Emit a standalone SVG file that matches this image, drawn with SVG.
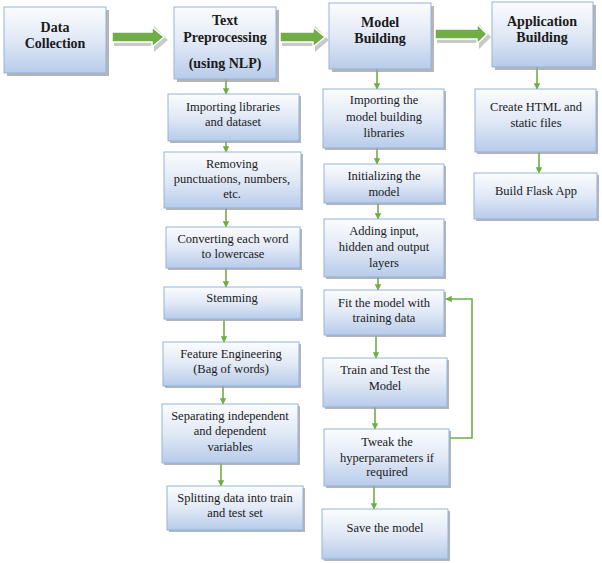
<svg xmlns="http://www.w3.org/2000/svg" width="602" height="563" viewBox="0 0 602 563" font-family="'Liberation Serif', 'DejaVu Serif', serif">
<defs>
<linearGradient id="g" x1="0" y1="0" x2="0" y2="1">
<stop offset="0" stop-color="#fbfcfe"/>
<stop offset="0.5" stop-color="#e1e9f6"/>
<stop offset="1" stop-color="#b7cbea"/>
</linearGradient>
<marker id="ah" viewBox="0 0 10 10" refX="9" refY="5" markerWidth="4" markerHeight="4" orient="auto" markerUnits="strokeWidth">
<path d="M0,0 L10,5 L0,10 z" fill="#70ad47"/>
</marker>
</defs>
<style>
.box{fill:url(#g);stroke:#95b3d7;stroke-width:1}
.sh{fill:#9c9c9c;opacity:0.75}
.h{font-size:14px;font-weight:bold;fill:#1a1a1a;text-anchor:middle}
.t{font-size:12.5px;fill:#1a1a1a;text-anchor:middle}
.c{stroke:#70ad47;stroke-width:1.6;fill:none;marker-end:url(#ah)}
.big{fill:#70ad47;stroke:#ffffff;stroke-width:1.5}
.bigsh{fill:#c9c9c9}
</style>

<g id="connectors">
<g id="bigarrows">
<polygon class="bigsh" points="114,34 154,34 154,26 168,40 154,52 154,46 114,46"/>
<polygon class="big" points="112,32 152,32 152,27 164,37 152,47 152,42 112,42"/>
<polygon class="bigsh" points="282,34 315,34 315,26 329,40 315,52 315,46 282,46"/>
<polygon class="big" points="280,32 313,32 313,27 325,37 313,47 313,42 280,42"/>
<polygon class="bigsh" points="437,31 479,31 479,24 491,37 479,49 479,43 437,43"/>
<polygon class="big" points="435,29 477,29 477,24 487,34 477,44 477,39 435,39"/>
</g>
<line class="c" x1="226" y1="79" x2="226" y2="94"/>
<line class="c" x1="226" y1="141" x2="226" y2="152"/>
<line class="c" x1="226" y1="208" x2="226" y2="227"/>
<line class="c" x1="226" y1="268" x2="226" y2="287"/>
<line class="c" x1="224" y1="320" x2="224" y2="342"/>
<line class="c" x1="223" y1="386" x2="223" y2="404"/>
<line class="c" x1="221" y1="463" x2="221" y2="486"/>
<line class="c" x1="377" y1="69" x2="377" y2="89"/>
<line class="c" x1="377" y1="148" x2="377" y2="164"/>
<line class="c" x1="378" y1="203" x2="378" y2="219"/>
<line class="c" x1="378" y1="277" x2="378" y2="290"/>
<line class="c" x1="376" y1="335" x2="376" y2="358"/>
<line class="c" x1="375" y1="407" x2="375" y2="429"/>
<line class="c" x1="374" y1="486" x2="374" y2="509"/>
<line class="c" x1="537" y1="67" x2="537" y2="89"/>
<line class="c" x1="539" y1="152" x2="539" y2="173"/>
<polyline class="c" points="450,438 472,438 472,299 446,299"/>
</g>

<g id="data-collection">
<rect class="sh" x="7" y="10" width="102" height="66"/>
<rect class="box" x="4" y="7" width="102" height="66"/>
<text class="h" x="55" y="32">Data</text>
<text class="h" x="55" y="48">Collection</text>
</g>
<g id="text-preprocessing">
<rect class="sh" x="177" y="10" width="102" height="72"/>
<rect class="box" x="174" y="7" width="102" height="72"/>
<text class="h" x="225" y="25">Text</text>
<text class="h" x="225" y="42">Preprocessing</text>
<text class="h" x="225" y="68">(using NLP)</text>
</g>
<g id="model-building">
<rect class="sh" x="332" y="6" width="102" height="66"/>
<rect class="box" x="329" y="3" width="102" height="66"/>
<text class="h" x="380" y="27">Model</text>
<text class="h" x="380" y="43">Building</text>
</g>
<g id="application-building">
<rect class="sh" x="495" y="5" width="101" height="65"/>
<rect class="box" x="492" y="2" width="101" height="65"/>
<text class="h" x="542" y="26">Application</text>
<text class="h" x="542" y="42">Building</text>
</g>

<g id="importing-libraries">
<rect class="sh" x="170" y="96" width="131" height="47"/>
<rect class="box" x="168" y="94" width="131" height="47"/>
<text class="t" x="233" y="111">Importing libraries</text>
<text class="t" x="233" y="126">and dataset</text>
</g>
<g id="removing">
<rect class="sh" x="166" y="154" width="137" height="56"/>
<rect class="box" x="164" y="152" width="137" height="56"/>
<text class="t" x="232" y="168">Removing</text>
<text class="t" x="232" y="183">punctuations, numbers,</text>
<text class="t" x="232" y="198">etc.</text>
</g>
<g id="converting">
<rect class="sh" x="168" y="229" width="134" height="41"/>
<rect class="box" x="166" y="227" width="134" height="41"/>
<text class="t" x="233" y="243">Converting each word</text>
<text class="t" x="233" y="258">to lowercase</text>
</g>
<g id="stemming">
<rect class="sh" x="166" y="289" width="137" height="32"/>
<rect class="box" x="164" y="287" width="137" height="32"/>
<text class="t" x="232" y="302">Stemming</text>
</g>
<g id="feature-engineering">
<rect class="sh" x="165" y="344" width="136" height="44"/>
<rect class="box" x="163" y="342" width="136" height="44"/>
<text class="t" x="231" y="358">Feature Engineering</text>
<text class="t" x="231" y="373">(Bag of words)</text>
</g>
<g id="separating">
<rect class="sh" x="164" y="406" width="136" height="59"/>
<rect class="box" x="162" y="404" width="136" height="59"/>
<text class="t" x="230" y="420">Separating independent</text>
<text class="t" x="230" y="435">and dependent</text>
<text class="t" x="230" y="451">variables</text>
</g>
<g id="splitting">
<rect class="sh" x="169" y="488" width="136" height="44"/>
<rect class="box" x="167" y="486" width="136" height="44"/>
<text class="t" x="235" y="502">Splitting data into train</text>
<text class="t" x="235" y="517">and test set</text>
</g>

<g id="importing-model-libraries">
<rect class="sh" x="325" y="91" width="121" height="59"/>
<rect class="box" x="323" y="89" width="121" height="59"/>
<text class="t" x="384" y="104">Importing the</text>
<text class="t" x="384" y="121">model building</text>
<text class="t" x="384" y="137">libraries</text>
</g>
<g id="initializing">
<rect class="sh" x="326" y="166" width="120" height="39"/>
<rect class="box" x="324" y="164" width="120" height="39"/>
<text class="t" x="384" y="180">Initializing the</text>
<text class="t" x="384" y="196">model</text>
</g>
<g id="adding-layers">
<rect class="sh" x="326" y="221" width="120" height="58"/>
<rect class="box" x="324" y="219" width="120" height="58"/>
<text class="t" x="384" y="235">Adding input,</text>
<text class="t" x="384" y="251">hidden and output</text>
<text class="t" x="384" y="267">layers</text>
</g>
<g id="fit-model">
<rect class="sh" x="326" y="292" width="120" height="45"/>
<rect class="box" x="324" y="290" width="120" height="45"/>
<text class="t" x="384" y="307">Fit the model with</text>
<text class="t" x="384" y="322">training data</text>
</g>
<g id="train-test">
<rect class="sh" x="325" y="360" width="124" height="49"/>
<rect class="box" x="323" y="358" width="124" height="49"/>
<text class="t" x="385" y="374">Train and Test the</text>
<text class="t" x="385" y="390">Model</text>
</g>
<g id="tweak">
<rect class="sh" x="326" y="431" width="125" height="57"/>
<rect class="box" x="324" y="429" width="125" height="57"/>
<text class="t" x="387" y="446">Tweak the</text>
<text class="t" x="387" y="462">hyperparameters if</text>
<text class="t" x="387" y="476">required</text>
</g>
<g id="save-model">
<rect class="sh" x="324" y="511" width="126" height="50"/>
<rect class="box" x="322" y="509" width="126" height="50"/>
<text class="t" x="385" y="532">Save the model</text>
</g>

<g id="create-html">
<rect class="sh" x="477" y="91" width="121" height="63"/>
<rect class="box" x="475" y="89" width="121" height="63"/>
<text class="t" x="536" y="111">Create HTML and</text>
<text class="t" x="536" y="127">static files</text>
</g>
<g id="build-flask">
<rect class="sh" x="476" y="175" width="123" height="46"/>
<rect class="box" x="474" y="173" width="123" height="46"/>
<text class="t" x="536" y="195">Build Flask App</text>
</g>
</svg>
